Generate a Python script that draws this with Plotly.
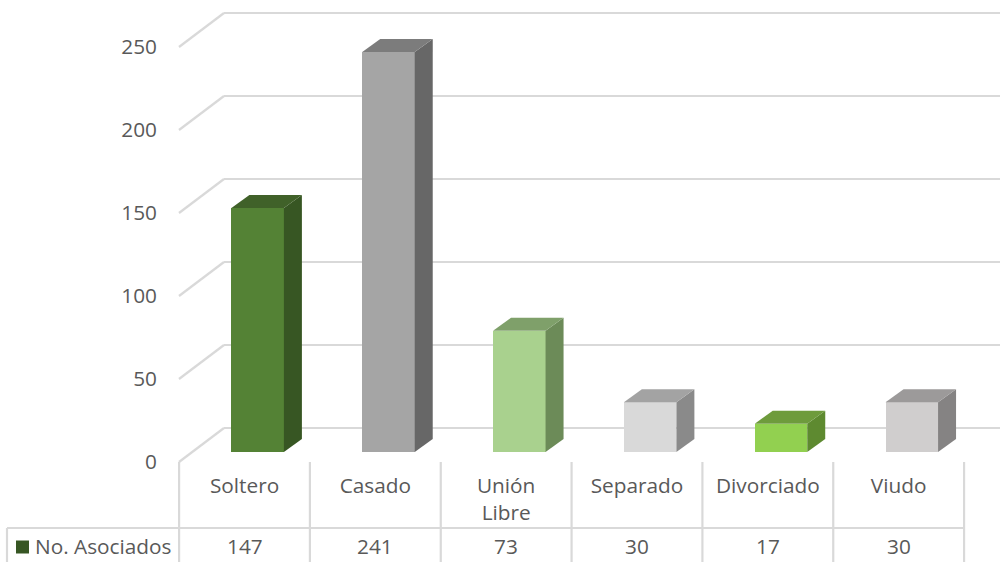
import plotly.graph_objects as go

# --- data ---
categories = ["Soltero", "Casado", "Unión<br>Libre", "Separado", "Divorciado", "Viudo"]
values = [147, 241, 73, 30, 17, 30]
series_name = "No. Asociados"
y_ticks = [0, 50, 100, 150, 200, 250]

front_colors = ["#548235", "#a5a5a5", "#a9d18e", "#d9d9d9", "#92d050", "#d0cece"]
top_colors = ["#406129", "#7c7c7c", "#7fa06a", "#a3a3a3", "#6e9b3c", "#9c9a9a"]
side_colors = ["#375623", "#676767", "#6c8b58", "#8a8a8a", "#5e8a30", "#858383"]
legend_color = "#375623"

# --- scales (pixels of a 1000x562 page) ---
W, H = 1000, 562
SLOT = 130.83          # px per category
X0 = 244.5             # px of category 0 centre
PPU = 1.66             # px per value unit
Y0 = 462               # px of value 0 on the front plane

def ux(px):
    return (px - X0) / SLOT

def uy(py):
    return (Y0 - py) / PPU

GRID = "#d9d9d9"
TEXT = "#595959"
FONT = "Open Sans"
FS = 20.8

wall_dx, wall_dy = 45 / SLOT, 34 / PPU       # floor depth
bar_dx, bar_dy = 18 / SLOT, 13 / PPU         # bar depth
bar_base = 10 / PPU
bar_w = 52.5 / SLOT
bar_off = (231.4 - X0) / SLOT

fig = go.Figure()

# front faces
fig.add_trace(go.Bar(
    x=list(range(len(values))), y=values, base=bar_base, width=bar_w, offset=bar_off,
    marker=dict(color=front_colors, line=dict(width=0)),
    name=series_name, showlegend=False, hoverinfo="skip",
))

# side and top faces, derived from the values
for i, v in enumerate(values):
    l = i + bar_off
    r = l + bar_w
    b = bar_base
    t = bar_base + v
    fig.add_trace(go.Scatter(
        x=[r, r + bar_dx, r + bar_dx, r, r], y=[b, b + bar_dy, t + bar_dy, t, b],
        fill="toself", fillcolor=side_colors[i], mode="none",
        showlegend=False, hoverinfo="skip",
    ))
    fig.add_trace(go.Scatter(
        x=[l, r, r + bar_dx, l + bar_dx, l], y=[t, t, t + bar_dy, t + bar_dy, t],
        fill="toself", fillcolor=top_colors[i], mode="none",
        showlegend=False, hoverinfo="skip",
    ))

# legend key inside the data table
row_y = uy(546)
fig.add_trace(go.Scatter(
    x=[ux(22.5)], y=[uy(547)], mode="markers",
    marker=dict(symbol="square", size=13, color=legend_color),
    showlegend=False, hoverinfo="skip",
))

shapes = []
line = dict(color=GRID, width=2.2)
x_left = ux(179)
x_right = ux(964)

# gridlines: floor/wall diagonal then along the back wall
for t in y_ticks:
    shapes.append(dict(type="line", xref="x", yref="y", layer="below", line=line,
                       x0=x_left, y0=t, x1=x_left + wall_dx, y1=t + wall_dy))
    shapes.append(dict(type="line", xref="x", yref="y", layer="below", line=line,
                       x0=x_left + wall_dx, y0=t + wall_dy, x1=ux(W), y1=t + wall_dy))

# data table frame
n = len(categories)
for i in range(n + 1):
    xv = i - 0.5
    shapes.append(dict(type="line", xref="x", yref="y", layer="below", line=line,
                       x0=xv, y0=0, x1=xv, y1=uy(H)))
shapes.append(dict(type="line", xref="x", yref="y", layer="below", line=line,
                   x0=ux(7), y0=uy(528), x1=x_right, y1=uy(528)))
shapes.append(dict(type="line", xref="x", yref="y", layer="below", line=line,
                   x0=ux(7), y0=uy(528), x1=ux(7), y1=uy(H)))

# table row text
annotations = [dict(x=i, y=row_y, xref="x", yref="y", text=str(v), showarrow=False,
                    font=dict(family=FONT, size=FS, color=TEXT))
               for i, v in enumerate(values)]
annotations.append(dict(x=ux(33), y=row_y, xref="x", yref="y", text=series_name,
                        showarrow=False, xanchor="left",
                        font=dict(family=FONT, size=FS, color=TEXT)))

fig.update_layout(
    width=W, height=H, autosize=False,
    margin=dict(l=0, r=0, t=0, b=0),
    paper_bgcolor="white", plot_bgcolor="white",
    showlegend=False, bargap=0,
    shapes=shapes, annotations=annotations,
    xaxis=dict(
        range=[ux(0), ux(W)], domain=[0, 1], anchor="free", position=(H - 471) / H,
        tickmode="array", tickvals=list(range(n)), ticktext=categories,
        showgrid=False, zeroline=False, showline=False, ticks="",
        tickangle=0, tickfont=dict(family=FONT, size=FS, color=TEXT),
    ),
    yaxis=dict(
        range=[uy(H), uy(0)], domain=[0, 1], anchor="free", position=0.157,
        tickmode="array", tickvals=y_ticks,
        showgrid=False, zeroline=False, showline=False, ticks="",
        tickfont=dict(family=FONT, size=FS, color=TEXT),
    ),
)

fig.write_html("out.html", config={"displayModeBar": False},
               post_script="document.body.style.margin='0';")
